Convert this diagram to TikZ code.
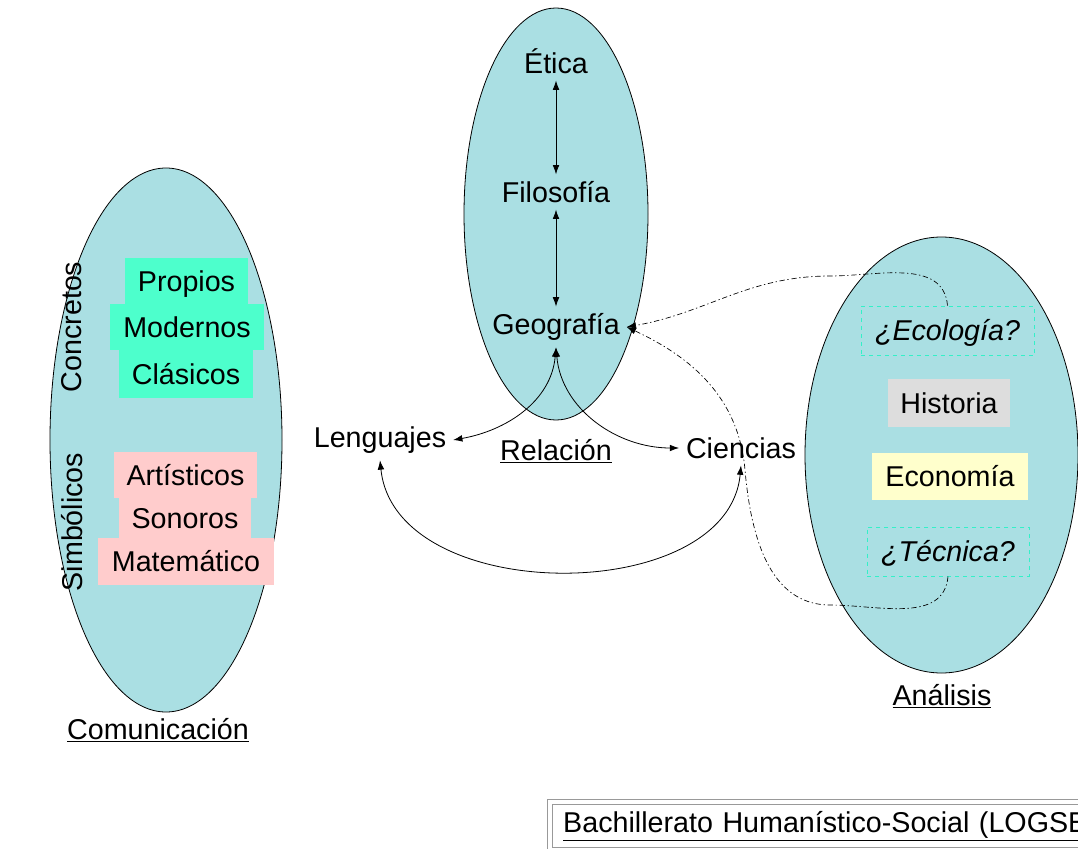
\documentclass[tikz,border=0pt]{standalone}
\usepackage{fontspec}
\setmainfont{Liberation Sans}
\usetikzlibrary{positioning,calc,arrows.meta}
\definecolor{ovalfill}{RGB}{170,223,227}
\definecolor{concgreen}{RGB}{77,255,204}
\definecolor{simbpink}{RGB}{255,204,204}
\definecolor{histgray}{RGB}{221,221,221}
\definecolor{econyellow}{RGB}{255,255,204}
\definecolor{dashgreen}{RGB}{51,240,200}
\tikzset{oval/.style={draw=black,line width=0.6pt,fill=ovalfill}}
\tikzset{word/.style={inner sep=5pt}}
\tikzset{tagbox/.style={inner sep=0pt,text height=17.5pt,text depth=2.5pt}}
\tikzset{cbox/.style={tagbox,fill=concgreen}}
\tikzset{sbox/.style={tagbox,fill=simbpink}}
\tikzset{qbox/.style={tagbox,draw=dashgreen,dashed,line width=0.5pt,font=\fontsize{21.5}{25}\selectfont\itshape}}
\tikzset{link/.style={line width=0.6pt,<->}}
\tikzset{dashlink/.style={line width=0.5pt,->,dash pattern=on 4pt off 2pt on 1pt off 2pt}}
\tikzset{>={Latex[length=7pt,width=5pt]}}

\begin{document}
\begin{tikzpicture}[x=0.75pt,y=-0.75pt,font=\fontsize{21.5}{25}\selectfont]
\useasboundingbox (0,0) rectangle (1078,849);

% the three ovals
\draw[oval] (166,440) ellipse [x radius=116,y radius=272];
\draw[oval] (556,214) ellipse [x radius=92,y radius=206];
\draw[oval] (941.5,455) ellipse [x radius=136.5,y radius=218];

% Comunicacion
\node[word,rotate=90] (conc) at (72,327) {Concretos};
\node[word,rotate=90] (simb) at (72,522) {Simbólicos};
\node[cbox,minimum width=92pt,minimum height=34.5pt] (prop) at (186.5,281) {Propios};
\node[cbox,minimum width=115.5pt,minimum height=34.5pt] (mode) at (187,327) {Modernos};
\node[cbox,minimum width=100.5pt,minimum height=36pt] (clas) at (186,374) {Clásicos};
\node[sbox,minimum width=107pt,minimum height=34.5pt] (arti) at (185.5,475) {Artísticos};
\node[sbox,minimum width=99pt,minimum height=30pt] (sono) at (185,518) {Sonoros};
\node[sbox,minimum width=132pt,minimum height=35pt] (mate) at (186,561.5) {Matemático};
\node[word] (comu) at (158,730) {\underline{Comunicación}};

% Relacion
\node[word] (etic) at (556,61) {Ética};
\node[word] (filo) at (556,192) {Filosofía};
\node[word] (geo) at (556,327) {Geografía};
\node[word] (rela) at (556,451) {\underline{Relación}};
\node[word] (leng) at (380,440) {Lenguajes};
\node[word] (cien) at (741,448) {Ciencias};

\draw[link] (etic) -- (filo);
\draw[link] (filo) -- (geo);
\draw[link] (geo.south) to[out=-95,in=10] (leng.east);
\draw[link] (geo.south) to[out=-85,in=180] (cien.west);
\draw[link] (leng.south) .. controls (395,607) and (728,607) .. (cien.south);

% Analisis
\node[qbox,minimum width=130pt,minimum height=37pt] (ecol) at (947.5,330.5) {¿Ecología?};
\node[tagbox,fill=histgray,minimum width=91.5pt,minimum height=36pt] (hist) at (949,403) {Historia};
\node[tagbox,fill=econyellow,minimum width=117pt,minimum height=35pt] (econ) at (950,476.5) {Economía};
\node[qbox,minimum width=121.5pt,minimum height=37pt] (tecn) at (948,551.5) {¿Técnica?};
\node[word] (anal) at (942,696) {\underline{Análisis}};

\coordinate (ectop) at (830,276);
\coordinate (tcbot) at (830,605);
\coordinate (tcmid) at (745,470);
\draw[dashlink] (ecol.north) to[out=95,in=0] (ectop) to[out=180,in=10] (geo.east);
\draw[dashlink] (tecn.south) to[out=-95,in=0] (tcbot) to[out=180,in=-85] (tcmid)
  to[out=95,in=-25] (geo.east);

% title box
\begin{scope}
  \clip (0,0) rectangle (1078,849);
  \node[draw=black!40,double=white,double distance=3pt,line width=0.6pt,
        anchor=north west,inner xsep=7pt,minimum height=36pt,
        minimum width=460pt,text width=440pt] (titl) at (549.5,801.5)
        {\underline{Bachillerato Humanístico-Social (LOGSE)}};
\end{scope}
\end{tikzpicture}
\end{document}
